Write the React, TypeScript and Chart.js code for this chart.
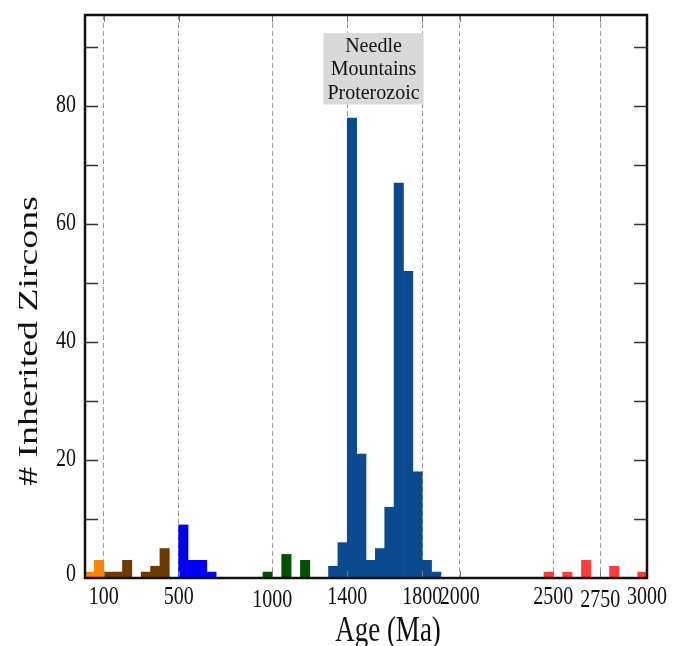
import React, { useEffect, useRef } from 'react';
import { Chart, registerables } from 'chart.js';

Chart.register(...registerables);

// ---------------- data (ages in Ma, 50 Ma bins) ----------------
const BIN_WIDTH = 50;
const orangeBinStarts = [0, 50];
const orangeCounts = [1, 3];
const brownBinStarts = [100, 150, 200, 300, 350, 400];
const brownCounts = [1, 1, 3, 1, 2, 5];
const blueBinStarts = [500, 550, 600, 650];
const blueCounts = [9, 3, 3, 1];
const greenBinStarts = [950, 1050, 1150];
const greenCounts = [1, 4, 3];
const navyBinStarts = [1300, 1350, 1400, 1450, 1500, 1550, 1600, 1650, 1700, 1750, 1800, 1850];
const navyCounts = [2, 6, 78, 21, 3, 5, 12, 67, 52, 18, 3, 1];
const redBinStarts = [2450, 2550, 2650, 2800, 2950];
const redCounts = [1, 1, 3, 2, 1];

const xTickValues = [100, 500, 1000, 1400, 1800, 2000, 2500, 2750, 3000];
const xGridValues = [100, 500, 1000, 1400, 1800, 2000, 2500, 2750];
const xLoweredLabels = [1000, 2750];
const yTickValues = [0, 10, 20, 30, 40, 50, 60, 70, 80, 90];
const yLabelValues = [0, 20, 40, 60, 80];
const xTitle = 'Age (Ma)';
const yTitle = '# Inherited Zircons';
const annotationLines = ['Needle', 'Mountains', 'Proterozoic'];
const annotationAge = 1540;

// ---------------- styling ----------------
const SERIF = '"Liberation Serif", "Times New Roman", serif';

const toPoints = (starts: number[], counts: number[]) =>
  starts.map((s, i) => ({ x: s + BIN_WIDTH / 2, y: counts[i] }));

function drawStretched(ctx: CanvasRenderingContext2D, text: string, x: number, y: number, size: number, stretch: number, align: CanvasTextAlign, rotate = false) {
  ctx.save();
  ctx.translate(x, y);
  if (rotate) {
    ctx.rotate(-Math.PI / 2);
    ctx.scale(stretch, 1);
  } else {
    ctx.scale(1, stretch);
  }
  ctx.font = `${size}px ${SERIF}`;
  ctx.textAlign = align;
  ctx.textBaseline = 'middle';
  ctx.fillStyle = '#111';
  ctx.fillText(text, 0, 0);
  ctx.restore();
}

const decorPlugin = {
  id: 'decor',
  afterDraw(chart: any) {
    const { ctx, chartArea: a, scales } = chart;
    const xs = scales.x;
    const ys = scales.y;
    ctx.save();

    // inside tick marks
    ctx.strokeStyle = '#333';
    ctx.lineWidth = 1.5;
    ctx.beginPath();
    ys.ticks.forEach((t: any) => {
      if (t.value <= 0) return;
      const py = Math.round(ys.getPixelForValue(t.value)) + 0.5;
      ctx.moveTo(a.left, py); ctx.lineTo(a.left + 13, py);
      ctx.moveTo(a.right, py); ctx.lineTo(a.right - 13, py);
    });
    ctx.stroke();
    ctx.strokeStyle = '#777';
    ctx.lineWidth = 1;
    ctx.beginPath();
    xs.ticks.forEach((t: any) => {
      const px = Math.round(xs.getPixelForValue(t.value)) + 0.5;
      ctx.moveTo(px, a.bottom); ctx.lineTo(px, a.bottom - 7);
      ctx.moveTo(px, a.top); ctx.lineTo(px, a.top + 7);
    });
    ctx.stroke();

    // frame
    ctx.strokeStyle = '#111';
    ctx.lineWidth = 2.5;
    ctx.strokeRect(a.left, a.top, a.right - a.left, a.bottom - a.top);

    // tick labels
    xs.ticks.forEach((t: any) => {
      const px = xs.getPixelForValue(t.value);
      const py = a.bottom + (xLoweredLabels.includes(t.value) ? 22 : 19);
      drawStretched(ctx, String(t.value), px, py, 20, 1.25, 'center');
    });
    ys.ticks.forEach((t: any) => {
      if (!yLabelValues.includes(t.value)) return;
      const py = ys.getPixelForValue(t.value);
      drawStretched(ctx, String(t.value), a.left - 9, t.value === 0 ? py - 4 : py - 1, 20, 1.25, 'right');
    });

    // axis titles
    drawStretched(ctx, xTitle, 388, 631, 27, 1.35, 'center');
    drawStretched(ctx, yTitle, 30, 341, 27, 1.4, 'center', true);

    // annotation box
    const cx = xs.getPixelForValue(annotationAge);
    ctx.font = `20px ${SERIF}`;
    const w = Math.max(...annotationLines.map((l) => ctx.measureText(l).width)) + 8;
    const lh = 23.5;
    const top = a.top + 18;
    const h = lh * annotationLines.length + 1;
    ctx.fillStyle = '#d9d9d9';
    ctx.fillRect(cx - w / 2, top, w, h);
    annotationLines.forEach((l, i) => {
      ctx.save();
      ctx.translate(cx, top + lh * (i + 0.5) + 1);
      ctx.scale(1, 1.1);
      ctx.fillStyle = '#111';
      ctx.textAlign = 'center';
      ctx.textBaseline = 'middle';
      ctx.fillText(l, 0, 0);
      ctx.restore();
    });

    ctx.restore();
  },
};

export default function App() {
  const ref = useRef<HTMLCanvasElement | null>(null);

  useEffect(() => {
    if (!ref.current) return;
    const barDefaults = {
      borderWidth: 0,
      barPercentage: 1,
      categoryPercentage: 1,
      grouped: false,
    };
    const chart = new Chart(ref.current, {
      type: 'bar',
      data: {
        datasets: [
          { label: 'orange', data: toPoints(orangeBinStarts, orangeCounts), backgroundColor: '#ff8300', ...barDefaults },
          { label: 'brown', data: toPoints(brownBinStarts, brownCounts), backgroundColor: '#6c3b00', ...barDefaults },
          { label: 'blue', data: toPoints(blueBinStarts, blueCounts), backgroundColor: '#0000f2', ...barDefaults },
          { label: 'green', data: toPoints(greenBinStarts, greenCounts), backgroundColor: '#005200', ...barDefaults },
          { label: 'navy', data: toPoints(navyBinStarts, navyCounts), backgroundColor: '#0b4a8e', ...barDefaults },
          { label: 'red', data: toPoints(redBinStarts, redCounts), backgroundColor: '#ff3c3c', ...barDefaults },
        ] as any,
      },
      options: {
        animation: false,
        responsive: false,
        maintainAspectRatio: false,
        layout: { padding: { top: 15, right: 31, left: 0, bottom: 0 } },
        plugins: { legend: { display: false }, tooltip: { enabled: false }, title: { display: false } },
        scales: {
          x: {
            type: 'linear',
            min: 0,
            max: 3000,
            offset: false,
            z: 1,
            afterBuildTicks: (s: any) => { s.ticks = xTickValues.map((v) => ({ value: v })); },
            afterFit: (s: any) => { s.height = 68; },
            grid: {
              offset: false,
              drawTicks: false,
              lineWidth: 1,
              color: (c: any) => (c.tick && xGridValues.includes(c.tick.value) ? '#9a9a9a' : 'rgba(0,0,0,0)'),
            },
            border: { display: false, dash: [5, 3] },
            ticks: { display: false, autoSkip: false, maxRotation: 0 },
          },
          y: {
            type: 'linear',
            min: 0,
            max: 95.5,
            afterBuildTicks: (s: any) => { s.ticks = yTickValues.map((v) => ({ value: v })); },
            afterFit: (s: any) => { s.width = 85; },
            grid: { display: false, drawTicks: false },
            border: { display: false },
            ticks: { display: false },
          },
        },
      } as any,
      plugins: [decorPlugin],
    });
    return () => chart.destroy();
  }, []);

  return (
    <div style={{ position: 'absolute', left: 0, top: 0, width: 678, height: 646, background: '#fff' }}>
      <canvas ref={ref} width={678} height={646} style={{ display: 'block' }} />
    </div>
  );
}
